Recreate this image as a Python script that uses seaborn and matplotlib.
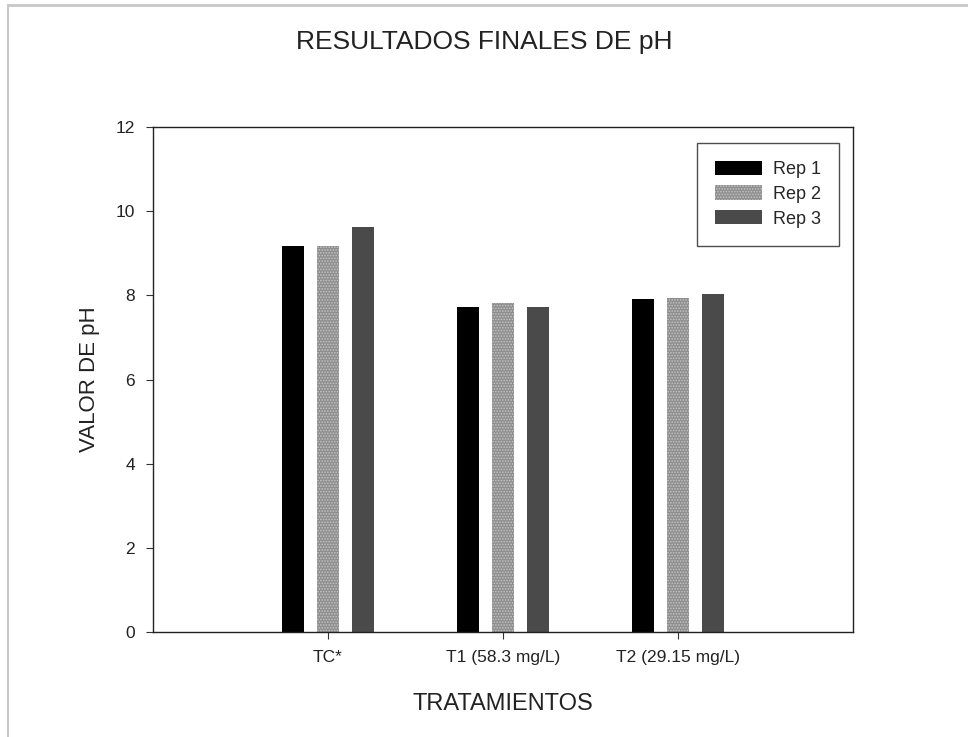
import matplotlib
matplotlib.use('Agg')
import matplotlib.pyplot as plt
import matplotlib.patches as mpatches
import pandas as pd
import seaborn as sns

TREATMENTS = ['TC*', 'T1 (58.3 mg/L)', 'T2 (29.15 mg/L)']
REPS = ['Rep 1', 'Rep 2', 'Rep 3']
REP1 = [9.17, 7.72, 7.91]
REP2 = [9.17, 7.81, 7.93]
REP3 = [9.62, 7.72, 8.03]
Y_TICKS = [0, 2, 4, 6, 8, 10, 12]

COLORS = ['#000000', '#8e8e8e', '#4a4a4a']
HATCHES = ['', '......', '']
HATCH_EDGE = ['#000000', '#c4c4c4', '#4a4a4a']

sns.set_style('white')
plt.rcParams['font.family'] = ['Liberation Sans', 'DejaVu Sans']
plt.rcParams['hatch.linewidth'] = 0.8

df = pd.DataFrame({
    'Tratamiento': TREATMENTS * 3,
    'Rep': [r for r in REPS for _ in TREATMENTS],
    'pH': REP1 + REP2 + REP3,
})

fig = plt.figure(figsize=(9.68, 7.37), dpi=100)
ax = fig.add_axes([153 / 968, 1 - 632 / 737, 700 / 968, 505 / 737])

sns.barplot(data=df, x='Tratamiento', y='pH', hue='Rep', order=TREATMENTS,
            hue_order=REPS, palette=COLORS, width=0.6, gap=0.35,
            saturation=1, ax=ax, legend=False)

for i, cont in enumerate(ax.containers):
    for bar in cont:
        bar.set_hatch(HATCHES[i])
        bar.set_edgecolor(HATCH_EDGE[i])
        bar.set_linewidth(0)

ax.set_xlim(-1, 3)
ax.set_ylim(0, 12)
ax.set_yticks(Y_TICKS)
ax.tick_params(axis='both', direction='out', length=5, width=0.8,
               bottom=True, left=True, color='#333333', labelsize=12.5,
               labelcolor='#222222', pad=8)
for sp in ax.spines.values():
    sp.set_visible(True)
    sp.set_color('#222222')
    sp.set_linewidth(1.0)

ax.set_xlabel('TRATAMIENTOS', fontsize=17, color='#222222', labelpad=20)
ax.set_ylabel('VALOR DE pH', fontsize=16, color='#222222', labelpad=11)
fig.text(0.5, 1 - 42 / 737, 'RESULTADOS FINALES DE pH', ha='center', va='center',
         fontsize=19, color='#222222')

handles = [mpatches.Patch(facecolor=c, hatch=h, edgecolor=e, linewidth=0, label=r)
           for c, h, e, r in zip(COLORS, HATCHES, HATCH_EDGE, REPS)]
leg = ax.legend(handles=handles, loc='upper right', bbox_to_anchor=(0.98, 0.969),
                fontsize=13, frameon=True, fancybox=False, handlelength=2.6,
                handleheight=0.85, labelspacing=0.4, borderpad=1.0,
                handletextpad=0.6, borderaxespad=0)
leg.get_frame().set_edgecolor('#222222')
leg.get_frame().set_linewidth(1.0)

# image frame (top and left edge of the original screenshot)
fig.add_artist(plt.Line2D([8 / 968, 1], [1 - 5 / 737, 1 - 5 / 737],
                          color='#c8c8c8', lw=2, transform=fig.transFigure))
fig.add_artist(plt.Line2D([8 / 968, 8 / 968], [0, 1 - 5 / 737],
                          color='#c8c8c8', lw=1.5, transform=fig.transFigure))

fig.savefig('out.png', dpi=100)
